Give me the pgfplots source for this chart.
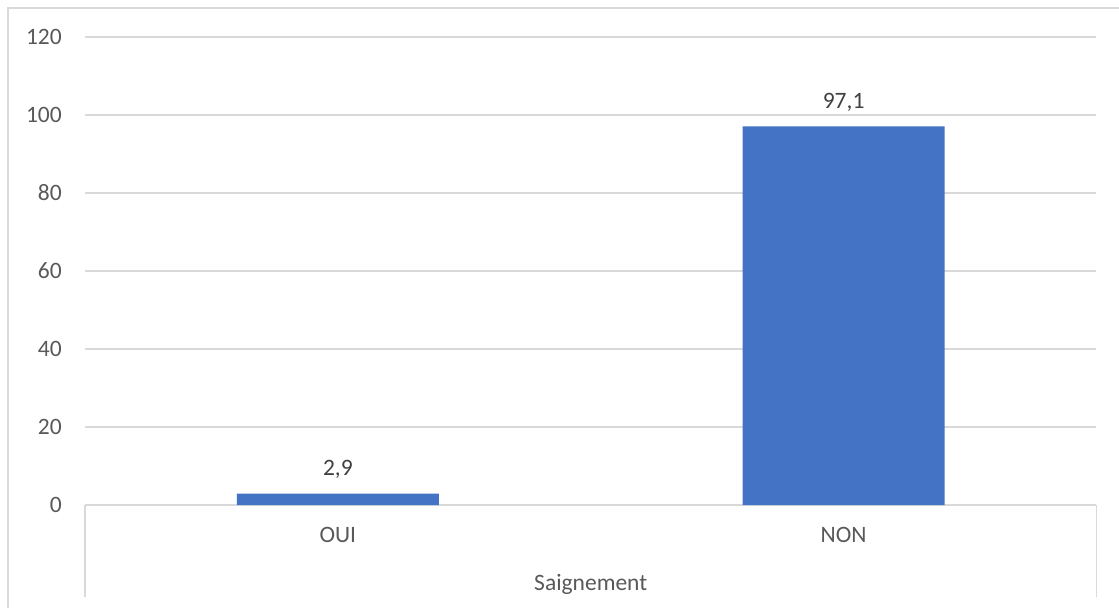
\documentclass[border=0pt]{standalone}
\usepackage{pgfplots}
\pgfplotsset{compat=1.18}
\usepackage{fontspec}
\setmainfont{Carlito}
\definecolor{barblue}{HTML}{4472C4}
\definecolor{gridgray}{HTML}{D9D9D9}
\definecolor{txtgray}{HTML}{595959}
\definecolor{lblgray}{HTML}{404040}
\begin{document}
\begin{tikzpicture}[x=1pt,y=1pt]
\useasboundingbox (0,0) rectangle (1119,608);
\fill[white] (0,0) rectangle (1119,608);
\draw[gridgray, line width=1.5pt] (8,0) -- (8,600) -- (1119,600);
\begin{axis}[
  at={(85pt,103pt)}, anchor=south west,
  scale only axis, width=1011.5pt, height=468pt,
  xmin=-0.5, xmax=1.5, ymin=0, ymax=120,
  xtick={0,1}, xticklabels={OUI,NON},
  ytick={0,20,...,120},
  /pgf/number format/assume math mode=true,
  axis y line*=left, y axis line style={draw=none},
  axis x line*=bottom, x axis line style={gridgray, line width=1.3pt},
  ymajorgrids, grid style={gridgray, line width=1.3pt},
  major tick length=0pt,
  tick label style={font=\fontsize{23.5}{28}\selectfont, text=txtgray},
  yticklabel style={anchor=east, inner sep=0pt, xshift=-23pt},
  xticklabel style={anchor=center, inner sep=0pt, yshift=-30pt},
  xlabel={Saignement},
  xlabel style={font=\fontsize{23.5}{28}\selectfont, text=txtgray, at={(axis description cs:0.5,0)}, anchor=base, inner sep=0pt, yshift=-85pt},
  ybar, bar width=202pt,
  nodes near coords,
  nodes near coords style={font=\fontsize{23.5}{28}\selectfont, text=lblgray, anchor=base, inner sep=0pt, yshift=18pt, /pgf/number format/.cd, use comma, fixed, fixed zerofill, precision=1, assume math mode=true},
  clip=false,
]
\addplot[fill=barblue, draw=none] coordinates {(0,2.9) (1,97.1)};
\draw[gridgray, line width=1.3pt] (rel axis cs:0,0) -- ([yshift=-92pt]rel axis cs:0,0);
\draw[gridgray, line width=1.3pt] (rel axis cs:1,0) -- ([yshift=-92pt]rel axis cs:1,0);
\end{axis}
\end{tikzpicture}
\end{document}
